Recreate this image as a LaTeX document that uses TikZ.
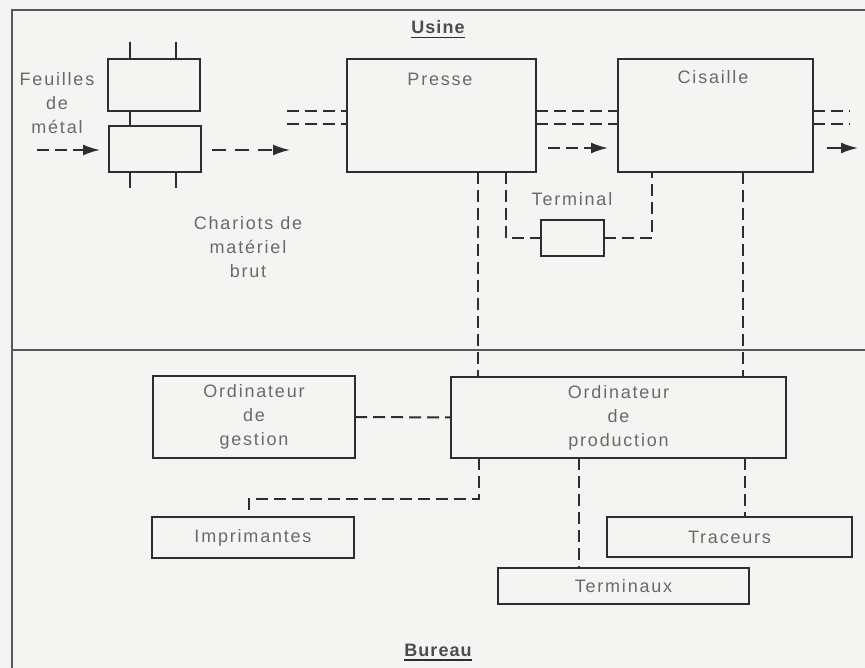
\documentclass[tikz,border=0pt]{standalone}
\usepackage{fontspec}
\setmainfont{Liberation Sans}[LetterSpace=10]
\newfontfamily\titlefont{Liberation Sans}[LetterSpace=6]
\usetikzlibrary{arrows.meta}
\definecolor{bgcol}{HTML}{F4F4F2}
\definecolor{inkcol}{HTML}{2E2E2E}
\definecolor{txtcol}{HTML}{6A6A6A}
\tikzset{
  box/.style={draw=inkcol, line width=2pt, minimum width=#1, inner sep=0pt, outer sep=0pt},
  lbl/.style={text=txtcol, font=\fontsize{18}{24}\selectfont, align=center, inner sep=0pt},
  ttl/.style={text=inkcol!85, font=\fontsize{18}{20}\selectfont\titlefont\bfseries, inner sep=0pt},
  dline/.style={draw=inkcol, line width=2pt, dash pattern=on 12pt off 6pt},
  sline/.style={draw=inkcol, line width=2pt},
  frameline/.style={draw=inkcol!80, line width=1.4pt},
  tip/.style={-{Latex[length=17pt,width=11pt]}}
}
\begin{document}
\begin{tikzpicture}[x=1pt,y=-1pt]
\fill[bgcol] (0,0) rectangle (865,668);
\useasboundingbox (0,0) rectangle (865,668);
% frame
\coordinate (ftl) at (12,10);
\coordinate (ftr) at (865,10);
\coordinate (fbl) at (12,668);
\coordinate (dl) at (12,350);
\coordinate (dr) at (865,350);
\draw[frameline] (ftr) -- (ftl) -- (fbl);
\draw[frameline] (dl) -- (dr);
% titles
\node[ttl] (usine) at (438,27) {Usine};
\node[ttl] (bureau) at (438,650) {Bureau};
\draw[inkcol, line width=1.5pt] ([yshift=-4pt]usine.base west) -- ([yshift=-4pt]usine.base east);
\draw[inkcol, line width=1.5pt] ([yshift=-4pt]bureau.base west) -- ([yshift=-4pt]bureau.base east);
% boxes
\node[box=92pt, minimum height=52pt] (cartA) at (154,85) {};
\node[box=92pt, minimum height=46pt] (cartB) at (155,149) {};
\node[box=189pt, minimum height=113pt] (presse) at (441.5,115.5) {};
\node[box=195pt, minimum height=113pt] (cisaille) at (715.5,115.5) {};
\node[box=63pt, minimum height=36pt] (term) at (572.5,238) {};
\node[box=202pt, minimum height=82pt, lbl] (gestion) at (254,417) {Ordinateur\\de\\gestion};
\node[box=335pt, minimum height=81pt, lbl] (prod) at (618.5,417.5) {Ordinateur\\de\\production};
\node[box=202pt, minimum height=41pt, lbl] (impr) at (253,537.5) {Imprimantes};
\node[box=251pt, minimum height=36pt, lbl] (terminaux) at (623.5,586) {Terminaux};
\node[box=245pt, minimum height=40pt, lbl] (traceurs) at (729.5,537) {Traceurs};
% labels
\node[lbl] (feuilles) at (57,103) {Feuilles\\de\\métal};
\node[lbl] (chariots) at (248,247) {Chariots de\\matériel\\brut};
\node[lbl] (presselbl) at (440,79) {Presse};
\node[lbl] (cisaillelbl) at (713,77) {Cisaille};
\node[lbl] (termlbl) at (572,199) {Terminal};
% cart stubs
\draw[sline] (130,42) -- (130,0 |- cartA.north);
\draw[sline] (176,42) -- (176,0 |- cartA.north);
\draw[sline] (130,0 |- cartA.south) -- (130,0 |- cartB.north);
\draw[sline] (130,0 |- cartB.south) -- (130,188);
\draw[sline] (176,0 |- cartB.south) -- (176,188);
% material flow
\coordinate (in0) at (37,150);
\draw[dline, tip, shorten >=9pt] (in0) -- (cartB.west |- in0);
\coordinate (out1) at (290,150);
\draw[dline, tip, dash pattern=on 14pt off 9pt] ([xshift=11pt]cartB.east |- out1) -- (out1);
\coordinate (pl1) at (287,111);
\coordinate (pl2) at (287,124);
\draw[dline] (pl1) -- (presse.west |- pl1);
\draw[dline] (pl2) -- (presse.west |- pl2);
\draw[dline] (presse.east |- pl1) -- (cisaille.west |- pl1);
\draw[dline] (presse.east |- pl2) -- (cisaille.west |- pl2);
\coordinate (mid0) at (548,148);
\draw[dline, tip, shorten >=10pt] (mid0) -- (cisaille.west |- mid0);
\coordinate (r1) at (850,111);
\coordinate (r2) at (850,124);
\draw[dline] (cisaille.east |- r1) -- (r1);
\draw[dline] (cisaille.east |- r2) -- (r2);
\coordinate (rout) at (858,148);
\draw[sline, tip] ([xshift=14pt]cisaille.east |- rout) -- (rout);
% information links
\draw[dline] (478,0 |- presse.south) -- (478,0 |- prod.north);
\draw[dline] (506,0 |- presse.south) |- (term.west);
\draw[dline] (term.east) -| (652,0 |- cisaille.south);
\draw[dline] (743,0 |- cisaille.south) -- (743,0 |- prod.north);
\draw[dline] (gestion.east) -- (prod.west);
\draw[dline] (479,0 |- prod.south) |- (249,499) -- (249,0 |- impr.north);
\draw[dline] (579,0 |- prod.south) -- (579,0 |- terminaux.north);
\draw[dline] (745,0 |- prod.south) -- (745,0 |- traceurs.north);
\end{tikzpicture}
\end{document}
